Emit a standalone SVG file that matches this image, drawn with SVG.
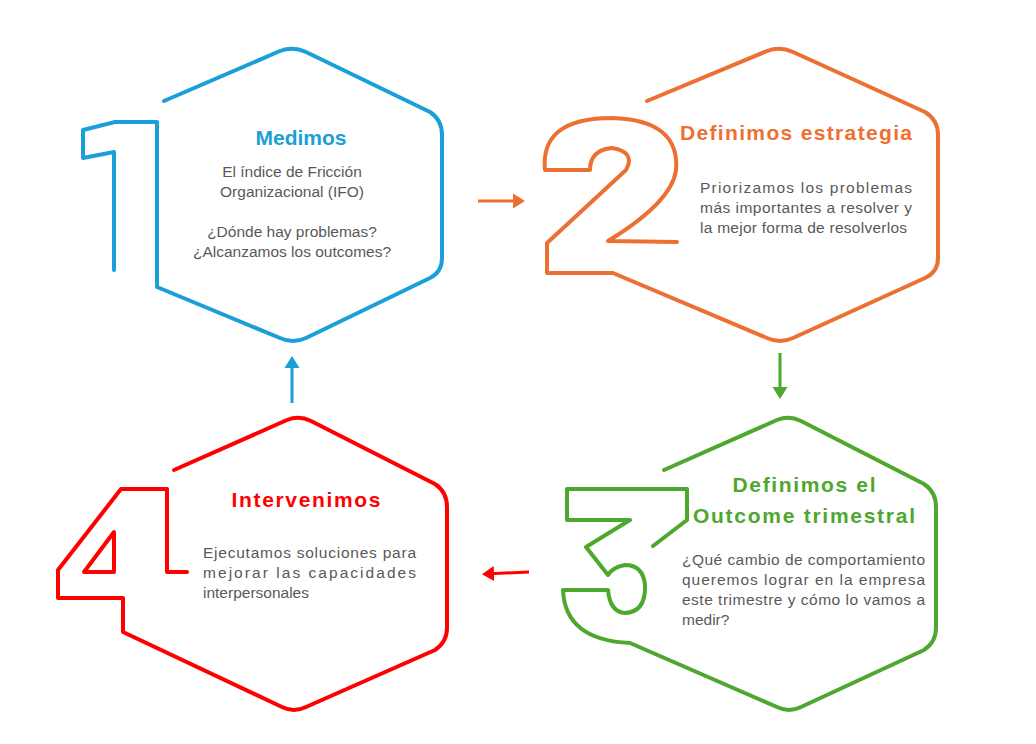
<svg xmlns="http://www.w3.org/2000/svg" width="1036" height="744" viewBox="0 0 1036 744">
<style>
.s{fill:none;stroke-width:4;stroke-linejoin:round;stroke-linecap:round}
.b{stroke:#1A9FD8}.o{stroke:#ED7033}.g{stroke:#4EA72E}.r{stroke:#F00}
.t{font-family:"Liberation Sans",Arial,sans-serif;font-weight:bold;font-size:21px}
.x{font-family:"Liberation Sans",Arial,sans-serif;font-size:15.5px;fill:#595959}
.c{stroke-width:3;fill:none}
</style>
<defs>
<marker id="mo" markerWidth="6" markerHeight="6" refX="3" refY="3" orient="auto" markerUnits="strokeWidth"><path d="M0,0.5 L4,3 L0,5.5z" fill="#ED7033"/></marker>
<marker id="mg" markerWidth="6" markerHeight="6" refX="3" refY="3" orient="auto" markerUnits="strokeWidth"><path d="M0,0.5 L4,3 L0,5.5z" fill="#4EA72E"/></marker>
<marker id="mr" markerWidth="6" markerHeight="6" refX="3" refY="3" orient="auto" markerUnits="strokeWidth"><path d="M0,0.5 L4,3 L0,5.5z" fill="#F00"/></marker>
<marker id="mb" markerWidth="6" markerHeight="6" refX="3" refY="3" orient="auto" markerUnits="strokeWidth"><path d="M0,0.5 L4,3 L0,5.5z" fill="#1A9FD8"/></marker>
</defs>
<rect width="1036" height="744" fill="#fff"/>
<g id="node1">
<path class="s b" d="M164,101 L280,51 Q293,46 306,52 L430,112 Q442,120 442,135 L442,258 Q442,272 430,278 L306,338 Q293,344 280,338 L157,287 L157,122 L115,122 L83,130 L83,158 L114,152 L114,270"/>
<text class="t" x="301" y="145" text-anchor="middle" fill="#1A9FD8">Medimos</text>
<text class="x" text-anchor="middle"><tspan x="292" y="177">El índice de Fricción</tspan><tspan x="292" y="197">Organizacional (IFO)</tspan><tspan x="292" y="237">¿Dónde hay problemas?</tspan><tspan x="292" y="257">¿Alcanzamos los outcomes?</tspan></text>
</g>
<g id="node2">
<path class="s o" d="M647,101 L767,51 Q780,46 793,52 L925,112 Q938,120 938,135 L938,258 Q938,272 925,278 L793,338 Q780,344 767,338 L613,273 L547,273 L547,243 L626,170 Q636,152 612,148 Q590,150 590,170 L545,170 Q540,118 612,118 Q680,120 676,170 Q672,202 608,241 L677,242"/>
<text class="t" x="680" y="140" fill="#ED7033" textLength="232">Definimos estrategia</text>
<text class="x"><tspan x="700" y="193" textLength="212">Priorizamos los problemas</tspan><tspan x="700" y="213" textLength="212">más importantes a resolver y</tspan><tspan x="700" y="233" textLength="207">la mejor forma de resolverlos</tspan></text>
</g>
<g id="node3">
<path class="s g" d="M664,470 L777,420 Q789,415 801,421 L924,484 Q936,492 936,507 L936,628 Q936,642 924,650 L801,707 Q789,713 777,707 L630,643 Q565,640 563,590 L608,590 Q610,612 625,613 Q646,612 645,585 Q643,565 625,565 Q613,567 608,575 L586,547 L630,520 L567,520 L567,489 L687,489 L687,520 L653,546"/>
<text class="t" fill="#4EA72E" text-anchor="middle"><tspan x="804" y="492" textLength="143">Definimos el</tspan><tspan x="804" y="523" textLength="222">Outcome trimestral</tspan></text>
<text class="x"><tspan x="682" y="565" textLength="243">¿Qué cambio de comportamiento</tspan><tspan x="682" y="585" textLength="243">queremos lograr en la empresa</tspan><tspan x="682" y="605" textLength="243">este trimestre y cómo lo vamos a</tspan><tspan x="682" y="625">medir?</tspan></text>
</g>
<g id="node4">
<path class="s r" d="M174,470 L287,420 Q299,415 311,421 L435,484 Q447,492 447,507 L447,628 Q447,642 435,650 L306,707 Q294,713 282,707 L123,632 L123,598 L58,598 L58,570 L121,489 L167,489 L167,572 L187,572"/>
<path class="s r" d="M114,532 L114,572 L84,572 Z"/>
<text class="t" x="306" y="507" text-anchor="middle" fill="#F00" textLength="149">Intervenimos</text>
<text class="x"><tspan x="203" y="558" textLength="213">Ejecutamos soluciones para</tspan><tspan x="203" y="578" textLength="213">mejorar las capacidades</tspan><tspan x="203" y="598">interpersonales</tspan></text>
</g>
<g id="connectors">
<line class="c" x1="478" y1="201" x2="522" y2="201" stroke="#ED7033" marker-end="url(#mo)"/>
<line class="c" x1="780" y1="353" x2="780" y2="396" stroke="#4EA72E" marker-end="url(#mg)"/>
<line class="c" x1="529" y1="572" x2="485" y2="574" stroke="#F00" marker-end="url(#mr)"/>
<line class="c" x1="292" y1="403" x2="292" y2="359" stroke="#1A9FD8" marker-end="url(#mb)"/>
</g>
</svg>
